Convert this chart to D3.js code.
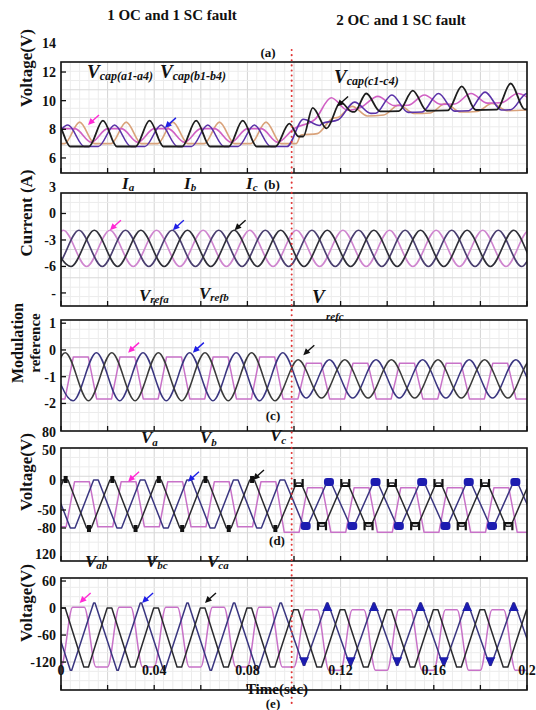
<!DOCTYPE html>
<html>
<head>
<meta charset="utf-8">
<script src="https://cdn.jsdelivr.net/npm/d3@7"></script>
<style>
  body { margin: 0; background: #fff; }
  svg text { font-family: "Liberation Serif", "Times New Roman", serif; font-weight: bold; fill: #111; }
</style>
</head>
<body>
<svg id="chart" width="536" height="710"></svg>
<script>
// ---------------- data ----------------
const timeTicksMs = [0, 20, 40, 60, 80, 100, 120, 140, 160, 180, 200];
const timeLabelMs = [0, 40, 80, 120, 160, 200];
const faultMs = 99;          // fault instant (red dotted marker)
const halfPeriodMs = 10;     // 50 Hz fundamental

// phase order: [a (pink), b (navy), c (black)] — first positive peak, ms
const currentPeakMs = [1, 7.7, 14.3];
const modRefPeakMs = [8.5, 15.2, 1.8];
const phaseVPeakMs = [9, 15, 2];
const lineVPeakMs = [7.5, 14.3, 0.8];

// extreme levels per phase: [high before, low before, high after, low after]
const currentLevels = [[-1.9, -6.0, -1.9, -6.0], [-1.9, -6.0, -1.9, -6.0], [-1.9, -6.0, -1.9, -6.0]];
const modRefLevels = [[-0.26, -1.83, -0.5, -1.83], [-0.1, -1.9, -0.37, -1.8], [-0.1, -1.9, -0.37, -1.8]];
const phaseVLevels = [[-3, -78, -13, -87], [0, -80, -5, -75], [0, -80, -5, -77]];
const lineVLevels = [[2, -131, -4, -138], [11, -138, 11, -127], [0, -131, -4, -131]];

// capacitor voltages: baseline knots [ms, V] and crests (or dips) [ms, V]
const capOrangeBase = [[0, 7.0], [101, 7.0], [103, 7.6], [110, 7.7], [117, 8.8], [150, 9.1], [200, 9.35]];
const capOrangeHumps = [[8, 8.5], [28, 8.5], [48, 8.5], [68, 8.5], [88, 8.5], [125, 9.6], [145, 9.7], [165, 9.8], [185, 9.8]];
const capPinkBase = [[0, 8.05], [100, 8.05], [112, 8.9], [130, 9.6], [200, 9.9]];
const capPinkHumps = [[13, 7.1], [33, 7.1], [53, 7.1], [73, 7.1], [93, 7.1], [116, 10.2], [136, 10.3], [156, 10.4], [176, 10.5], [196, 10.5]];
const capNavyBase = [[0, 6.8], [100, 6.8], [112, 8.4], [130, 9.1], [200, 9.4]];
const capNavyHumps = [[3, 8.3], [23, 8.3], [43, 8.3], [63, 8.3], [83, 8.3], [104, 8.7], [126, 9.9], [142, 10.4], [162, 10.5], [182, 10.6], [200, 10.5]];
const capBlackBase = [[0, 6.8], [100, 6.8], [102, 7.5], [113, 7.5], [116, 9.2], [200, 9.4]];
const capBlackHumps = [[-2, 8.6], [18, 8.6], [38, 8.6], [58, 8.6], [78, 8.6], [98, 8.4], [108, 9.5], [120, 9.9], [131, 10.5], [151, 10.7], [172, 11.0], [193, 11.2]];

// ---------------- layout ----------------
const svg = d3.select("#chart");
const X0 = 61, X1 = 527;
const x = d3.scaleLinear().domain([0, 200]).range([X0, X1]);

const colPink = "#c872c8", colNavy = "#3a3680", colBlack = "#2a2a2e", colOrange = "#d9a27a";

const panels = [
  { id: "a", top: 62, bottom: 173, domain: [4.95, 12.7], ticks: [6, 8, 10, 12, 14] },
  { id: "b", top: 193, bottom: 306, domain: [-10.48, 2.32], ticks: [3, 0, -3, -6, -9] },
  { id: "c", top: 320, bottom: 431, domain: [-3.03, 1.12], ticks: [1, 0, -1, -2] },
  { id: "d", top: 448, bottom: 561, domain: [-135, 53.3], ticks: [80, 50, 0, -50, -80] },
  { id: "e", top: 578, bottom: 690, domain: [-182, 66.7], ticks: [120, 60, 0, -60, -120] }
];
panels.forEach(p => { p.y = d3.scaleLinear().domain(p.domain).range([p.bottom, p.top]); });
const P = Object.fromEntries(panels.map(p => [p.id, p]));

const defs = svg.append("defs");

// grid
panels.forEach(p => {
  defs.append("clipPath").attr("id", "clip-" + p.id)
    .append("rect").attr("x", X0).attr("y", p.top).attr("width", X1 - X0).attr("height", p.bottom - p.top);
  const g = svg.append("g");
  g.selectAll(".vg").data(d3.range(0, 200.1, 4)).join("line")
    .attr("x1", d => x(d)).attr("x2", d => x(d)).attr("y1", p.top).attr("y2", p.bottom)
    .attr("stroke", d => d % 20 === 0 ? "#d4d4d4" : "#ececec").attr("stroke-width", 1);
  const rows = d3.range(1, 12).map(i => p.top + i * (p.bottom - p.top) / 12);
  g.selectAll(".hg").data(rows).join("line")
    .attr("x1", X0).attr("x2", X1).attr("y1", d => d).attr("y2", d => d)
    .attr("stroke", (d, i) => (i % 3 === 2) ? "#d8d8d8" : "#ececec").attr("stroke-width", 1);
});

// alternating crests/troughs every half period, optional flat top
function extremes(firstPeak, levels) {
  return d3.range(firstPeak - 2 * halfPeriodMs, 200 + 3 * halfPeriodMs, halfPeriodMs).map((ms, i) => {
    const after = ms >= faultMs;
    return { ms, crest: i % 2 === 0, v: i % 2 === 0 ? levels[after ? 2 : 0] : levels[after ? 3 : 1] };
  });
}
function phaseWave(firstPeak, levels, flat) {
  const pts = [];
  extremes(firstPeak, levels).forEach(e => {
    if (flat > 0) pts.push([e.ms - flat, e.v], [e.ms + flat, e.v]);
    else pts.push([e.ms, e.v]);
  });
  return pts;
}

function drawLine(p, pts, color, curve, width) {
  const line = d3.line().x(d => x(d[0])).y(d => p.y(d[1])).curve(curve);
  svg.append("path").attr("clip-path", `url(#clip-${p.id})`)
    .attr("d", line(pts)).attr("fill", "none").attr("stroke", color)
    .attr("stroke-width", width || 1.5).attr("stroke-linejoin", "round");
}

// (a) capacitor voltages
function capTrace(base, humps, halfWidth) {
  const baseAt = d3.scaleLinear().domain(base.map(d => d[0])).range(base.map(d => d[1])).clamp(true);
  const pts = [];
  base.forEach(d => {
    if (!humps.some(h => Math.abs(h[0] - d[0]) < halfWidth)) pts.push(d);
  });
  humps.forEach(h => {
    pts.push([h[0] - halfWidth, baseAt(h[0] - halfWidth)], h, [h[0] + halfWidth, baseAt(h[0] + halfWidth)]);
  });
  pts.sort((a, b) => a[0] - b[0]);
  return pts;
}
drawLine(P.a, capTrace(capOrangeBase, capOrangeHumps, 6.5), colOrange, d3.curveMonotoneX, 1.6);
drawLine(P.a, capTrace(capPinkBase, capPinkHumps, 7), "#d060c4", d3.curveMonotoneX, 1.6);
drawLine(P.a, capTrace(capNavyBase, capNavyHumps, 7), "#5a32a8", d3.curveMonotoneX, 1.6);
drawLine(P.a, capTrace(capBlackBase, capBlackHumps, 6), "#1e1e1e", d3.curveMonotoneX, 1.8);

// (b) phase currents
drawLine(P.b, phaseWave(currentPeakMs[0], currentLevels[0], 0), "#cf86cf", d3.curveMonotoneX, 1.6);
drawLine(P.b, phaseWave(currentPeakMs[1], currentLevels[1], 0), "#4a3f70", d3.curveMonotoneX, 1.6);
drawLine(P.b, phaseWave(currentPeakMs[2], currentLevels[2], 0), "#2f2f38", d3.curveMonotoneX, 1.6);

// (c) modulation references
drawLine(P.c, phaseWave(modRefPeakMs[0], modRefLevels[0], 3.2), colPink, d3.curveLinear, 1.5);
drawLine(P.c, phaseWave(modRefPeakMs[1], modRefLevels[1], 0), colNavy, d3.curveMonotoneX, 1.5);
drawLine(P.c, phaseWave(modRefPeakMs[2], modRefLevels[2], 0), "#3a3a3a", d3.curveMonotoneX, 1.5);

// (d) phase voltages
drawLine(P.d, phaseWave(phaseVPeakMs[0], phaseVLevels[0], 3.2), colPink, d3.curveLinear, 1.5);
drawLine(P.d, phaseWave(phaseVPeakMs[1], phaseVLevels[1], 1.0), colNavy, d3.curveLinear, 1.5);
drawLine(P.d, phaseWave(phaseVPeakMs[2], phaseVLevels[2], 1.0), colBlack, d3.curveLinear, 1.5);

// switching-level blips on the phase voltages
const blipG = svg.append("g").attr("clip-path", "url(#clip-d)");
extremes(phaseVPeakMs[2], phaseVLevels[2]).forEach(e => {
  const cx = x(e.ms), cy = P.d.y(e.v);
  if (e.ms < faultMs) {
    blipG.append("rect").attr("x", cx - 2).attr("y", e.crest ? cy - 4 : cy - 3).attr("width", 4).attr("height", 7).attr("fill", "#111");
  } else {
    const s = e.crest ? -1 : 1;
    blipG.append("path").attr("d", `M${cx - 4},${cy + s * 4} L${cx - 4},${cy - s * 3} L${cx + 4},${cy - s * 3} L${cx + 4},${cy + s * 4}`)
      .attr("fill", "none").attr("stroke", "#111").attr("stroke-width", 2.2);
  }
});
extremes(phaseVPeakMs[1], phaseVLevels[1]).filter(e => e.ms >= faultMs).forEach(e => {
  const cx = x(e.ms), cy = P.d.y(e.v);
  blipG.append("rect").attr("x", cx - 5).attr("y", e.crest ? cy - 5 : cy - 3).attr("width", 10).attr("height", 8)
    .attr("rx", 3).attr("fill", "#1c1cb0");
});

// (e) line voltages
drawLine(P.e, phaseWave(lineVPeakMs[0], lineVLevels[0], 2.5), colPink, d3.curveMonotoneX, 1.5);
drawLine(P.e, phaseWave(lineVPeakMs[1], lineVLevels[1], 0.3), colNavy, d3.curveLinear, 1.5);
drawLine(P.e, phaseWave(lineVPeakMs[2], lineVLevels[2], 1.0), colBlack, d3.curveLinear, 1.5);
const triG = svg.append("g").attr("clip-path", "url(#clip-e)");
extremes(lineVPeakMs[1], lineVLevels[1]).filter(e => e.ms >= faultMs).forEach(e => {
  const cx = x(e.ms), cy = P.e.y(e.v);
  const s = e.crest ? 1 : -1;
  triG.append("path").attr("d", `M${cx},${cy - s * 1} L${cx - 5},${cy + s * 8} L${cx + 5},${cy + s * 8} Z`).attr("fill", "#1c1cb0");
});

// frames and axes
panels.forEach(p => {
  const g = svg.append("g");
  g.append("rect").attr("x", X0).attr("y", p.top).attr("width", X1 - X0).attr("height", p.bottom - p.top)
    .attr("fill", "none").attr("stroke", "#111").attr("stroke-width", 1.6);
  g.selectAll(".bt").data(timeTicksMs).join("line")
    .attr("x1", d => x(d)).attr("x2", d => x(d)).attr("y1", p.bottom).attr("y2", p.bottom - 5)
    .attr("stroke", "#111").attr("stroke-width", 1.3);
  g.selectAll(".lt").data(p.ticks.filter(v => p.y(v) > p.top + 2 && p.y(v) < p.bottom - 2)).join("line")
    .attr("x1", X0).attr("x2", X0 + 5).attr("y1", d => p.y(d)).attr("y2", d => p.y(d))
    .attr("stroke", "#111").attr("stroke-width", 1.3);
  g.selectAll(".tl").data(p.ticks).join("text")
    .attr("x", 56).attr("y", d => p.y(d)).attr("dy", "0.35em")
    .attr("text-anchor", "end").attr("font-size", 14)
    .text(d => (p.id === "b" && d === -9) ? "-" : d);
});

// fault instant
svg.append("line").attr("x1", x(faultMs)).attr("x2", x(faultMs)).attr("y1", 50).attr("y2", 706)
  .attr("stroke", "#e03434").attr("stroke-width", 2).attr("stroke-dasharray", "0.1 5")
  .attr("stroke-linecap", "round");

// arrows marking each phase
function arrow(p, ms, v, color) {
  const tx = x(ms), ty = p.y(v);
  svg.append("line").attr("x1", tx + 11).attr("y1", ty - 10).attr("x2", tx + 2).attr("y2", ty - 2)
    .attr("stroke", color).attr("stroke-width", 1.4);
  svg.append("path").attr("d", `M${tx},${ty} l7,-2.5 l-4.5,-4.5 z`).attr("fill", color);
}
arrow(P.a, 11.6, 8.3, "#ff2ad4"); arrow(P.a, 44.6, 8.1, "#1f1fe6");
arrow(P.a, 118.5, 9.6, "#111");
arrow(P.b, 21, -1.9, "#ff2ad4"); arrow(P.b, 48, -1.9, "#1f1fe6"); arrow(P.b, 74.5, -1.9, "#111");
arrow(P.c, 28.8, -0.1, "#ff2ad4"); arrow(P.c, 56.6, -0.1, "#1f1fe6"); arrow(P.c, 104, -0.2, "#111");
arrow(P.d, 28.8, -3, "#ff2ad4"); arrow(P.d, 54.5, -3, "#1f1fe6"); arrow(P.d, 82.4, 0, "#111");
arrow(P.e, 8, 11, "#ff2ad4"); arrow(P.e, 34.8, 11, "#1f1fe6"); arrow(P.e, 61.8, 11, "#111");

// text helpers
function sym(xp, yp, main, sub, mainSize, subSize, subDy) {
  const t = svg.append("text").attr("x", xp).attr("y", yp).attr("font-style", "italic");
  t.append("tspan").attr("font-size", mainSize).text(main);
  t.append("tspan").attr("font-size", subSize).attr("dy", subDy).text(sub);
  return t;
}
function plain(xp, yp, s, size, anchor) {
  return svg.append("text").attr("x", xp).attr("y", yp).attr("font-size", size)
    .attr("text-anchor", anchor || "middle").text(s);
}
function vtitle(xp, yp, s, size) {
  return svg.append("text").attr("transform", `translate(${xp},${yp}) rotate(-90)`)
    .attr("font-size", size).attr("text-anchor", "middle").text(s);
}

plain(172, 20, "1 OC and 1 SC fault", 15);
plain(401, 25, "2 OC and 1 SC fault", 15);

sym(87, 78, "V", "cap(a1-a4)", 19, 12, 2);
sym(160, 78, "V", "cap(b1-b4)", 19, 12, 2);
sym(334, 83, "V", "cap(c1-c4)", 19, 12, 2);
plain(268, 57, "(a)", 13);

sym(122, 189, "I", "a", 17, 11, 2);
sym(184, 189, "I", "b", 17, 11, 2);
sym(246, 189, "I", "c", 17, 11, 2);
plain(264, 189, "(b)", 13, "start");

sym(139, 301, "V", "refa", 17, 11, 2);
sym(199, 299, "V", "refb", 17, 11, 2);
sym(312, 303, "V", "", 19, 11, 0);
svg.append("text").attr("x", 326).attr("y", 320).attr("font-size", 11).attr("font-style", "italic").text("refc");
plain(273, 420, "(c)", 13);

sym(141, 443, "V", "a", 17, 11, 3);
sym(200, 443, "V", "b", 17, 11, 3);
sym(270, 441, "V", "c", 17, 11, 3);
plain(277, 545, "(d)", 13);

sym(85, 567, "V", "ab", 17, 11, 2);
sym(146, 567, "V", "bc", 17, 11, 2);
sym(207, 567, "V", "ca", 17, 11, 2);

svg.selectAll(".xl").data(timeLabelMs).join("text")
  .attr("x", d => x(d)).attr("y", 675).attr("text-anchor", "middle").attr("font-size", 14)
  .attr("fill", "#333").text(d => d3.format("")(d / 1000));
plain(277, 694, "Time(sec)", 15);
plain(273, 708, "(e)", 13);

vtitle(32, 68, "Voltage(V)", 17);
vtitle(32, 213, "Current (A)", 17);
vtitle(23, 343, "Modulation", 16);
vtitle(40, 343, "reference", 15);
vtitle(32, 472, "Voltage(V)", 17);
vtitle(32, 603, "Voltage(V)", 17);
</script>
</body>
</html>
